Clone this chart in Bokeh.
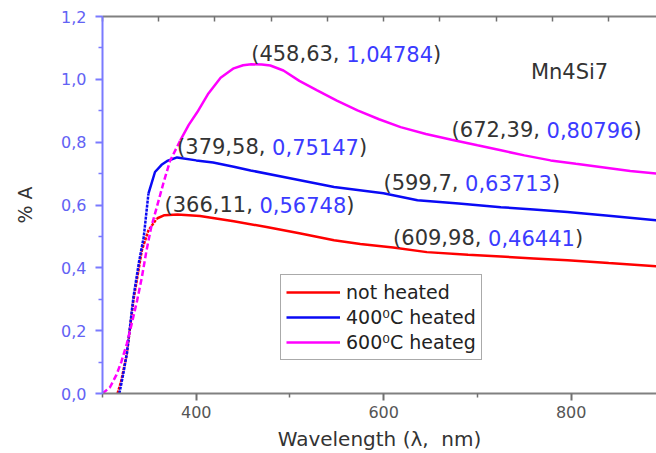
from bokeh.plotting import figure
from bokeh.models import (Range1d, LinearAxis, FixedTicker, CustomJSTickFormatter,
                          ColumnDataSource, Legend, LegendItem, Label)
from bokeh.core.properties import value
from bokeh.embed import file_html
from bokeh.resources import INLINE

# Absorbance spectra of Mn4Si7 films (wavelength in nm, absorbance in %A)
wl_not_heated = [316, 320, 326, 333, 342, 349, 358, 366.11, 380, 404, 440, 475, 510, 547,
                 575, 609.98, 646, 690, 725, 760, 796, 840, 891]
a_not_heated = [0.0, 0.04, 0.127, 0.297, 0.456, 0.519, 0.557, 0.56748, 0.570, 0.565, 0.548,
                0.530, 0.510, 0.488, 0.476, 0.46441, 0.450, 0.442, 0.436, 0.430, 0.424,
                0.415, 0.405]

wl_400 = [318, 322, 326, 333, 339, 344, 349, 356, 363, 369, 379.58, 400, 418, 440, 458, 500,
          547, 599.7, 636, 680, 725, 760, 796, 840, 891]
a_400 = [0.0, 0.06, 0.127, 0.307, 0.42, 0.498, 0.636, 0.705, 0.728, 0.740, 0.75147, 0.742,
         0.735, 0.722, 0.710, 0.685, 0.657, 0.63713, 0.615, 0.605, 0.593, 0.586, 0.578,
         0.566, 0.551]

wl_600 = [300, 308, 315, 320, 326, 331, 337, 342, 347, 352, 358, 365, 372, 383, 392, 401,
          413, 426, 440, 450, 458.63, 470, 479, 493, 510, 529, 550, 572, 595, 618, 645,
          672.39, 700, 725, 750, 778, 805, 831, 863, 891]
a_600 = [0.0, 0.02, 0.06, 0.10, 0.159, 0.22, 0.297, 0.37, 0.456, 0.53, 0.594, 0.67, 0.74,
         0.806, 0.855, 0.895, 0.955, 1.005, 1.035, 1.045, 1.04784, 1.047, 1.044, 1.028,
         0.995, 0.965, 0.932, 0.901, 0.873, 0.848, 0.826, 0.80796, 0.79, 0.774, 0.758,
         0.742, 0.731, 0.721, 0.708, 0.700]

series_names = ["not heated", "400\u2070C heated", "600\u2070C heateg"]

# Marked points (wavelength, absorbance)
ann_wl = [458.63, 379.58, 366.11, 672.39, 599.7, 609.98]
ann_a = [1.04784, 0.75147, 0.56748, 0.80796, 0.63713, 0.46441]

x_ticks = [400, 600, 800]
x_minor = [300, 500, 700, 900]
top_ticks = [300, 360, 420, 480, 540, 600, 660, 720, 780, 840]
y_ticks = [0.0, 0.2, 0.4, 0.6, 0.8, 1.0, 1.2]
y_tick_labels = ["0,0", "0,2", "0,4", "0,6", "0,8", "1,0", "1,2"]

FONT = "DejaVu Sans"
DARK = "#333333"
VAL_BLUE = "#3b3bff"
AXIS_BLUE = "#7a7aff"
LABEL_BLUE = "#6262f4"

p = figure(width=656, height=453, x_range=Range1d(300, 891), y_range=Range1d(0, 1.2),
           output_backend="svg", toolbar_location=None,
           min_border_left=102, min_border_top=16, min_border_bottom=60, min_border_right=0)
p.outline_line_color = None
p.xgrid.visible = False
p.ygrid.visible = False

# bottom axis
xa = p.xaxis[0]
xa.ticker = FixedTicker(ticks=x_ticks, minor_ticks=x_minor)
xa.axis_line_color = "#808080"
xa.axis_line_width = 2
xa.major_tick_line_color = "#707070"
xa.minor_tick_line_color = "#707070"
xa.major_tick_line_width = 2
xa.minor_tick_line_width = 1.5
xa.major_tick_in = 0
xa.major_tick_out = 7
xa.minor_tick_in = 0
xa.minor_tick_out = 4
xa.major_label_text_font = FONT
xa.major_label_text_font_size = "16px"
xa.major_label_text_color = "#555555"
xa.major_label_standoff = 5
xa.axis_label = "Wavelength (\u03bb,\u00a0 nm)"
xa.axis_label_text_font = FONT
xa.axis_label_text_font_size = "20px"
xa.axis_label_text_font_style = "normal"
xa.axis_label_text_color = DARK
xa.axis_label_standoff = 6

# left axis
ya = p.yaxis[0]
ya.ticker = FixedTicker(ticks=y_ticks,
                        minor_ticks=[round(t + 0.1, 1) for t in y_ticks[:-1]])
ya.formatter = CustomJSTickFormatter(
    args=dict(tick_vals=y_ticks, tick_texts=y_tick_labels),
    code="const i = tick_vals.findIndex(t => Math.abs(t - tick) < 1e-9); return i >= 0 ? tick_texts[i] : '';")
ya.axis_line_color = AXIS_BLUE
ya.axis_line_width = 2
ya.major_tick_line_color = AXIS_BLUE
ya.minor_tick_line_color = AXIS_BLUE
ya.major_tick_line_width = 2
ya.minor_tick_line_width = 1.5
ya.major_tick_in = 0
ya.major_tick_out = 7
ya.minor_tick_in = 0
ya.minor_tick_out = 4
ya.major_label_text_font = FONT
ya.major_label_text_font_size = "16px"
ya.major_label_text_color = LABEL_BLUE
ya.major_label_standoff = 9
ya.axis_label = "% A"
ya.axis_label_text_font = FONT
ya.axis_label_text_font_size = "19px"
ya.axis_label_text_font_style = "normal"
ya.axis_label_text_color = DARK
ya.axis_label_standoff = 22

# top frame line with short inward ticks (no labels)
top = LinearAxis(ticker=FixedTicker(ticks=[], minor_ticks=top_ticks),
                 axis_line_color="#808080", axis_line_width=2,
                 minor_tick_line_color="#707070", minor_tick_line_width=1.5,
                 major_tick_in=0, major_tick_out=0, minor_tick_in=5, minor_tick_out=0,
                 major_label_standoff=0)
p.add_layout(top, "above")

# spectra: rising edge dashed, remainder solid
series = [
    (wl_not_heated, a_not_heated, "#ff0000", 358, "3 1"),
    (wl_400, a_400, "#0a0af5", 349, "3 1"),
    (wl_600, a_600, "#ff00ff", 383, "6 3"),
]
items = []
for (wl, a, color, edge, dash), name in zip(series, series_names):
    k = max(i for i, w in enumerate(wl) if w <= edge)
    p.line(wl[:k + 1], a[:k + 1], line_color=color, line_width=2.5, line_dash=dash)
    r = p.line(wl[k:], a[k:], line_color=color, line_width=2.5)
    items.append(LegendItem(label=name, renderers=[r]))

legend = Legend(items=items, location=(178, 33), border_line_color="#555555",
                border_line_width=1.5, background_fill_color="white", background_fill_alpha=1,
                label_text_font=FONT, label_text_font_size="19px", label_text_color="#222222",
                glyph_width=54, glyph_height=24, label_height=24, label_standoff=6,
                spacing=1, padding=5, margin=0)
p.add_layout(legend, "center")

# point annotations: "(wavelength, " dark, value blue, ")" dark
ADV = {"(": 0.390, ")": 0.390, ",": 0.318, " ": 0.318}
ANN_SIZE = 21


def adv(s):
    return sum(ADV.get(ch, 0.636) for ch in s) * ANN_SIZE


xs, ys, texts, colors, dxs = [], [], [], [], []
for w, a in zip(ann_wl, ann_a):
    head = "(" + str(w).replace(".", ",") + ", "
    val = str(a).replace(".", ",")
    parts = [(head, DARK), (val, VAL_BLUE), (")", DARK)]
    dx = 0.0
    for txt, col in parts:
        xs.append(w)
        ys.append(a)
        texts.append(txt)
        colors.append(col)
        dxs.append(dx)
        dx += adv(txt)

ann_src = ColumnDataSource(dict(x=xs, y=ys, text=texts, color=colors, dx=dxs))
p.text(x="x", y="y", text="text", source=ann_src, text_color="color", x_offset="dx",
       y_offset=-10, text_font=value(FONT), text_font_size=f"{ANN_SIZE}px",
       text_baseline="alphabetic", text_align="left")

p.add_layout(Label(x=757, y=1.023, text="Mn4Si7", text_font=FONT, text_font_size="21px",
                   text_color=DARK, text_baseline="alphabetic"))

open("out.html", "w").write(file_html(p, INLINE))
